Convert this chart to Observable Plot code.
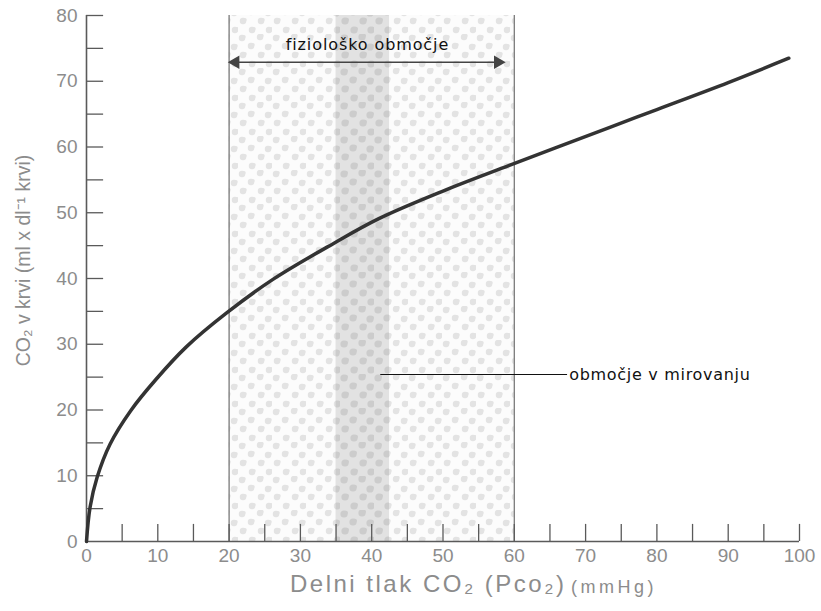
<!DOCTYPE html>
<html><head><meta charset="utf-8">
<script src="https://cdn.jsdelivr.net/npm/d3@7"></script>
<script src="https://cdn.jsdelivr.net/npm/@observablehq/plot@0.6"></script>
<style>body{margin:0;background:#fff}</style>
</head><body><div id="chart"></div>
<script>
// Data
const pco2 = [0, 0.5, 1.5, 3.3, 6.2, 9.7, 14, 19.7, 26.2, 34.6, 41, 50, 59.3, 73.4, 80, 90, 98.5];
const co2  = [0, 5.2, 9.8, 14.8, 19.9, 24.6, 29.6, 34.8, 39.9, 45.3, 49.1, 53.3, 57.2, 63, 65.7, 69.8, 73.5];
const xTicks = [5,10,15,20,25,30,35,40,45,50,55,60,65,70,75,80,85,90,95,100];
const yTicks = [5,10,15,20,25,30,35,40,45,50,55,60,65,70,75,80];
const xTickLabels = [0,10,20,30,40,50,60,70,80,90,100];
const yTickLabels = [0,10,20,30,40,50,60,70,80];
const physRange = [20, 60];        // fiziološko območje
const restRange = [35, 42.5];      // območje v mirovanju
const physArrowY = 72.9;
const physLabel = "fiziološko območje";
const restLabel = "območje v mirovanju";
const restPoint = {x: 41.2, y: 25.4, xEnd: 67.4};
const xLabelMain = "Delni tlak CO₂ (Pco₂)";
const xLabelUnit = "(mmHg)";
const yLabel = "CO₂ v krvi (ml x dl⁻¹ krvi)";

const curve = pco2.map((x, i) => ({x, y: co2[i]}));
const axisColor = "#5a5a5a";
const labelColor = "#8c8c8c";
const annFont = "'DejaVu Sans', sans-serif";

const plot = Plot.plot({
  width: 821,
  height: 611,
  marginLeft: 86,
  marginRight: 22,
  marginTop: 15,
  marginBottom: 70,
  style: {fontFamily: "'Liberation Sans', Arial, sans-serif", background: "#fff"},
  x: {domain: [0, 100], label: null},
  y: {domain: [0, 80], label: null},
  marks: [
    Plot.rect([{x1: physRange[0], x2: physRange[1]}], {x1: "x1", x2: "x2", y1: 0, y2: 80, fill: "url(#dots)"}),
    Plot.rect([{x1: restRange[0], x2: restRange[1]}], {x1: "x1", x2: "x2", y1: 0, y2: 80, fill: "url(#band)"}),
    Plot.ruleX(physRange, {y1: 0, y2: 80, stroke: "#7a7a7a", strokeWidth: 1.3}),
    Plot.ruleY(yTicks, {x1: 0, x2: 2.4, stroke: axisColor, strokeWidth: 1.3}),
    Plot.ruleX(xTicks, {y1: 0, y2: 2.6, stroke: axisColor, strokeWidth: 1.3}),
    Plot.ruleX([0], {y1: 0, y2: 80, stroke: axisColor, strokeWidth: 1.6}),
    Plot.ruleY([0], {x1: 0, x2: 100, stroke: axisColor, strokeWidth: 1.6}),
    Plot.axisX(xTickLabels, {tickSize: 0, tickPadding: 7, fontSize: 19, color: labelColor, label: null}),
    Plot.axisY(yTickLabels, {tickSize: 0, tickPadding: 9, fontSize: 19, color: labelColor, label: null}),
    Plot.line(curve, {x: "x", y: "y", curve: "catmull-rom", stroke: "#333", strokeWidth: 3.5}),
    // physiological range arrow
    Plot.link([{x1: physRange[0] + 0.6, x2: physRange[1] - 2.2}], {x1: "x1", x2: "x2", y1: physArrowY, y2: physArrowY, stroke: "#444", strokeWidth: 1.5}),
    Plot.dot([{x: physRange[0] + 0.9, r: -90}, {x: physRange[1] - 2.3, r: 90}], {x: "x", y: physArrowY, symbol: "triangle", rotate: "r", r: 5, fill: "#444", stroke: "none"}),
    Plot.text([physLabel], {x: (physRange[0] + physRange[1]) / 2 - 0.6, y: physArrowY + 2.6, text: d => d, fontSize: 16, fontFamily: annFont, fill: "#111"}),
    // rest range pointer
    Plot.link([restPoint], {x1: "x", x2: "xEnd", y1: "y", y2: "y", stroke: "#111", strokeWidth: 1.2}),
    Plot.text([restLabel], {x: restPoint.xEnd + 0.3, y: restPoint.y, text: d => d, textAnchor: "start", fontSize: 16, fontFamily: annFont, fill: "#111"}),
    // axis labels
    Plot.text([xLabelMain], {frameAnchor: "bottom", text: d => d, textAnchor: "start", dx: -153, dy: 50, fontSize: 24, fill: labelColor}),
    Plot.text([xLabelUnit], {frameAnchor: "bottom", text: d => d, textAnchor: "start", dx: 128, dy: 51, fontSize: 18, fill: labelColor}),
    Plot.text([yLabel], {frameAnchor: "left", text: d => d, textAnchor: "middle", rotate: -90, dx: -63, dy: -18, fontSize: 19.5, fill: labelColor})
  ]
});

const svg = d3.select(plot);
// letter spacing for the annotation and axis-title texts
const spacing = new Map([[physLabel, 0.9], [restLabel, 0.7], [xLabelMain, 2.5], [xLabelUnit, 3.5]]);
svg.selectAll("text").each(function() {
  const s = spacing.get(this.textContent);
  if (s != null) this.setAttribute("letter-spacing", s);
});

const defs = svg.insert("defs", ":first-child");
const blobs = [[4,4],[13,12],[22,3],[30,13],[5,21],[14,30],[23,21],[31,30]];
function pattern(id, bg, fg, r) {
  const p = defs.append("pattern").attr("id", id).attr("patternUnits", "userSpaceOnUse").attr("width", 34).attr("height", 34);
  p.append("rect").attr("width", 34).attr("height", 34).attr("fill", bg);
  for (const [cx, cy] of blobs) {
    p.append("circle").attr("cx", cx).attr("cy", cy).attr("r", r).attr("fill", fg);
    p.append("circle").attr("cx", cx + 1.8).attr("cy", cy - 1.2).attr("r", r * 0.6).attr("fill", fg);
  }
}
pattern("dots", "#fcfcfc", "#e3e3e3", 3.2);
pattern("band", "#e2e2e2", "#cccccc", 3.6);

document.getElementById("chart").appendChild(plot);
</script>
</body></html>
